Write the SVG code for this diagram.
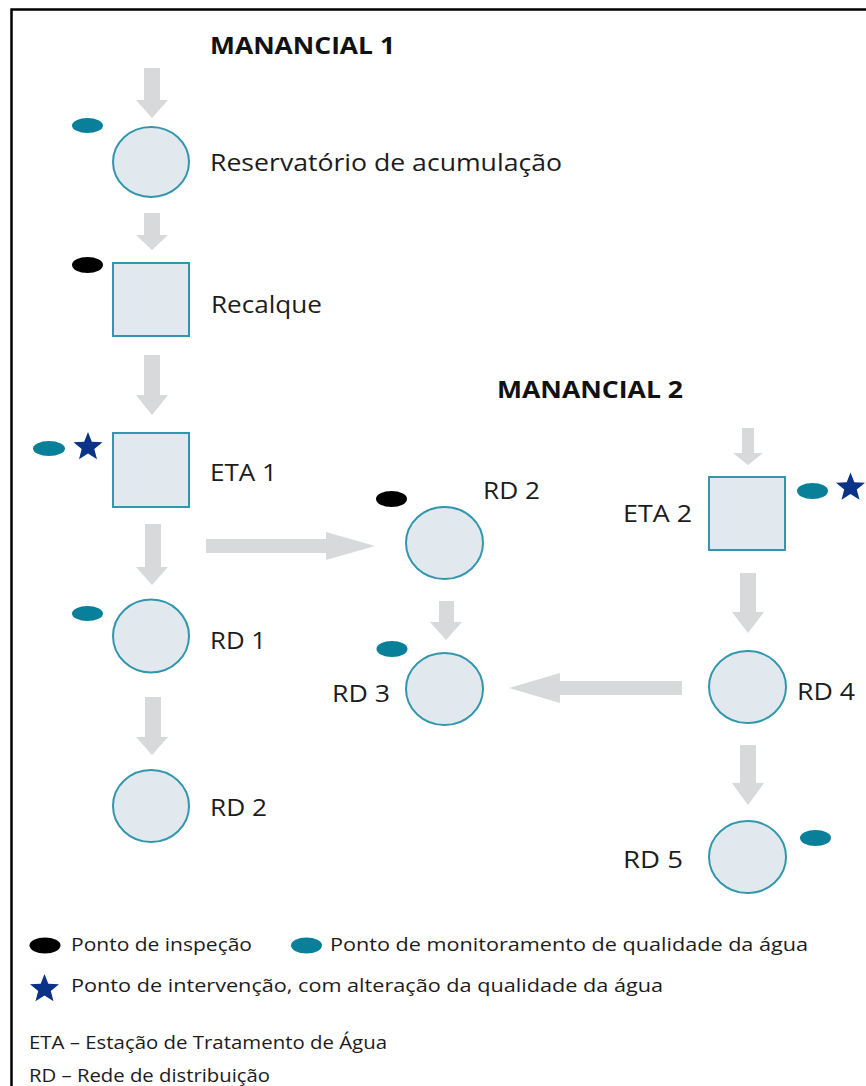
<svg xmlns="http://www.w3.org/2000/svg" xmlns:xlink="http://www.w3.org/1999/xlink" width="866" height="1086" viewBox="0 0 866 1086">
<style>
.node{fill:#e1e9ef;stroke:#3297ad;stroke-width:2}
.arrow{fill:#d8d9da}
.teal{fill:#08809a}
.black{fill:#000}
.star{fill:#0a3388}
.lbl{font-family:"Open Sans","Liberation Sans",sans-serif;font-size:24px;fill:#1c1c1c}
.title{font-family:"Open Sans","Liberation Sans",sans-serif;font-size:23px;font-weight:bold;fill:#111}
.leg{font-family:"Open Sans","Liberation Sans",sans-serif;font-size:19px;fill:#1c1c1c}
.note{font-family:"Open Sans","Liberation Sans",sans-serif;font-size:18px;fill:#1c1c1c}
</style>
<defs>
<polygon id="star" points="0,-15 3.82,-5.26 14.5,-4.64 6.3,2.01 9,12.3 0,6.6 -9,12.3 -6.3,2.01 -14.5,-4.64 -3.82,-5.26"/>
</defs>
<path d="M11.5,1086 V9.5 H866" fill="none" stroke="#000" stroke-width="2.5"/>
<g id="connectors">
<path class="arrow" d="M144,68 H160 V100 H168 L152,118 L136,100 H144 Z"/>
<path class="arrow" d="M144,213 H160 V235 H168 L152,250 L136,235 H144 Z"/>
<path class="arrow" d="M144,355 H160 V395 H168 L152,415 L136,395 H144 Z"/>
<path class="arrow" d="M145,524 H161 V567 H168 L152,585 L136,567 H145 Z"/>
<path class="arrow" d="M145,697 H161 V737 H168 L152,755 L136,737 H145 Z"/>
<path class="arrow" d="M439,601 H454 V622 H462 L446,640 L430,622 H439 Z"/>
<path class="arrow" d="M742,428 H754 V453 H763 L748,465 L733,453 H742 Z"/>
<path class="arrow" d="M740,573 H756 V612 H764 L748,633 L732,612 H740 Z"/>
<path class="arrow" d="M740,745 H756 V783 H764 L748,805 L732,783 H740 Z"/>
<path class="arrow" d="M206,539 H326 V532 L375,546 L326,560 V553 H206 Z"/>
<path class="arrow" d="M682,681 H560 V673 L509,688 L560,703 V695 H682 Z"/>
</g>
<g id="manancial1"><text class="title" x="210" y="54" textLength="185" lengthAdjust="spacingAndGlyphs">MANANCIAL 1</text></g>
<g id="reservatorio">
<ellipse class="node" cx="151" cy="162" rx="38" ry="35"/>
<ellipse class="teal" cx="87.5" cy="125.5" rx="15.5" ry="7.5"/>
<text class="lbl" x="210" y="171" textLength="352" lengthAdjust="spacingAndGlyphs">Reservatório de acumulação</text>
</g>
<g id="recalque">
<rect class="node" x="113" y="263" width="76" height="73"/>
<ellipse class="black" cx="87.5" cy="265" rx="15.5" ry="8"/>
<text class="lbl" x="211" y="313" textLength="111" lengthAdjust="spacingAndGlyphs">Recalque</text>
</g>
<g id="eta1">
<rect class="node" x="113" y="433" width="76" height="74"/>
<ellipse class="teal" cx="49" cy="448.5" rx="16" ry="7.5"/>
<use href="#star" xlink:href="#star" class="star" x="88" y="447"/>
<text class="lbl" x="210" y="481" textLength="67" lengthAdjust="spacingAndGlyphs">ETA 1</text>
</g>
<g id="rd1">
<ellipse class="node" cx="151" cy="636" rx="38" ry="36.5"/>
<ellipse class="teal" cx="87.5" cy="613.5" rx="15.5" ry="7.5"/>
<text class="lbl" x="210" y="649" textLength="56" lengthAdjust="spacingAndGlyphs">RD 1</text>
</g>
<g id="rd2a">
<ellipse class="node" cx="151" cy="806" rx="38" ry="36"/>
<text class="lbl" x="210" y="816" textLength="57" lengthAdjust="spacingAndGlyphs">RD 2</text>
</g>
<g id="rd2b">
<ellipse class="node" cx="444.5" cy="543" rx="38.5" ry="36"/>
<ellipse class="black" cx="391.5" cy="499" rx="15.5" ry="8"/>
<text class="lbl" x="483" y="499" textLength="57" lengthAdjust="spacingAndGlyphs">RD 2</text>
</g>
<g id="rd3">
<ellipse class="node" cx="444.5" cy="689" rx="38.5" ry="36"/>
<ellipse class="teal" cx="392" cy="649" rx="15.5" ry="8"/>
<text class="lbl" x="332" y="702" textLength="58" lengthAdjust="spacingAndGlyphs">RD 3</text>
</g>
<g id="manancial2"><text class="title" x="497" y="398" textLength="186" lengthAdjust="spacingAndGlyphs">MANANCIAL 2</text></g>
<g id="eta2">
<rect class="node" x="709" y="477" width="76" height="73"/>
<ellipse class="teal" cx="812.5" cy="491" rx="15.5" ry="8"/>
<use href="#star" xlink:href="#star" class="star" x="850.5" y="487.5"/>
<text class="lbl" x="623" y="522" textLength="69" lengthAdjust="spacingAndGlyphs">ETA 2</text>
</g>
<g id="rd4">
<ellipse class="node" cx="747.5" cy="687" rx="38.5" ry="36"/>
<text class="lbl" x="797" y="700" textLength="58" lengthAdjust="spacingAndGlyphs">RD 4</text>
</g>
<g id="rd5">
<ellipse class="node" cx="747.5" cy="857" rx="38.5" ry="36"/>
<ellipse class="teal" cx="815.5" cy="838" rx="15.5" ry="8"/>
<text class="lbl" x="623" y="868" textLength="60" lengthAdjust="spacingAndGlyphs">RD 5</text>
</g>
<g id="legend">
<ellipse class="black" cx="45" cy="945.5" rx="15.5" ry="8"/>
<text class="leg" x="71" y="951" textLength="181" lengthAdjust="spacingAndGlyphs">Ponto de inspeção</text>
<ellipse class="teal" cx="306.5" cy="945.5" rx="15.5" ry="8"/>
<text class="leg" x="330" y="951" textLength="478" lengthAdjust="spacingAndGlyphs">Ponto de monitoramento de qualidade da água</text>
<use href="#star" xlink:href="#star" class="star" x="44.5" y="989" transform="translate(0,0)"/>
<text class="leg" x="71" y="992" textLength="592" lengthAdjust="spacingAndGlyphs">Ponto de intervenção, com alteração da qualidade da água</text>
<text class="note" x="29" y="1049" textLength="358" lengthAdjust="spacingAndGlyphs">ETA – Estação de Tratamento de Água</text>
<text class="note" x="29" y="1082" textLength="241" lengthAdjust="spacingAndGlyphs">RD – Rede de distribuição</text>
</g>
</svg>
